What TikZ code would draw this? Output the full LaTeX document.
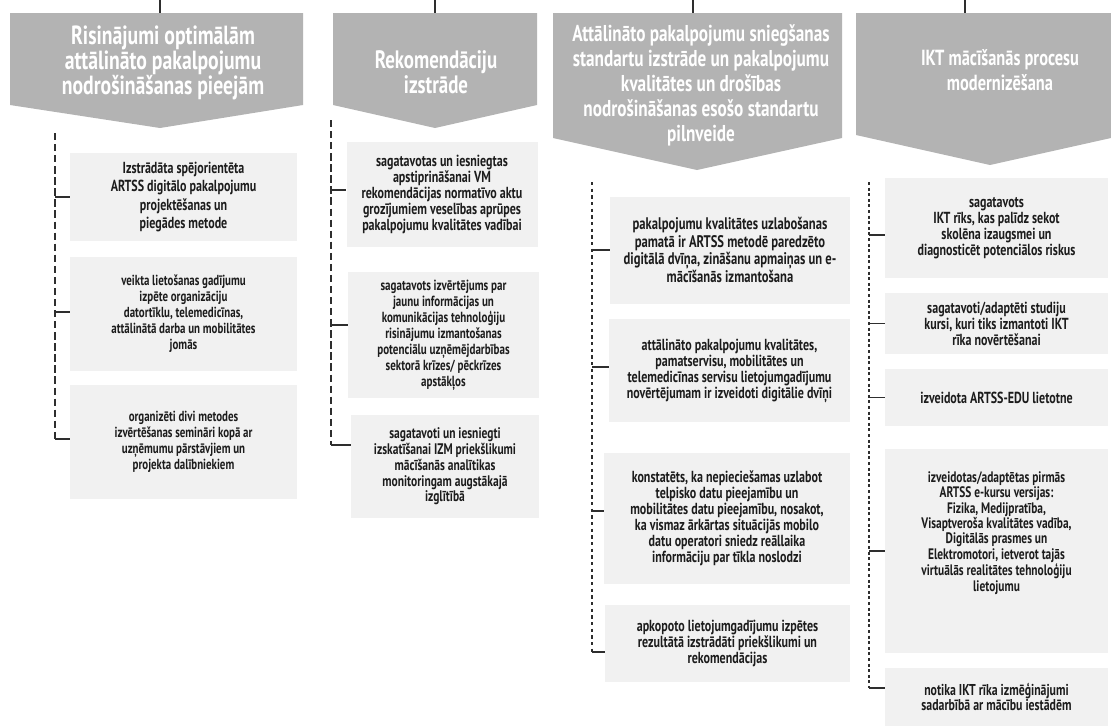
\documentclass[tikz,border=0pt]{standalone}
\usepackage{fontspec}
\setmainfont{PT Sans}[FakeStretch=0.75]
\definecolor{hdrgray}{HTML}{B3B3B3}
\definecolor{boxgray}{HTML}{F1F1F1}
\definecolor{txt}{HTML}{1C1C1C}
\definecolor{ln}{HTML}{2E2E2E}
\newcommand\fsz[2]{\bfseries\fontsize{#1}{#2}\selectfont}
\tikzset{
  hdr/.style={fill=hdrgray, draw=none},
  htext/.style={text=white, font=\fsz{17.5}{18.75}, align=center, inner sep=0pt},
  box/.style={fill=boxgray, draw=none, inner sep=0pt, align=center, text=txt,
              font=\fsz{12}{12}},
  conn/.style={draw=ln, line width=1.1pt},
  dashA/.style={conn, dash pattern=on 5.5pt off 2.8pt},
  dashB/.style={conn, dash pattern=on 2.6pt off 2.4pt},
  dotC/.style={draw=ln, line width=1.5pt, dash pattern=on 2.2pt off 2pt},
}
\begin{document}
\begin{tikzpicture}[x=0.75pt,y=-0.75pt]
\useasboundingbox (0,0) rectangle (1111,726);

% ---------- headers ----------
\fill[hdr] (10,13) -- (303,13) -- (303,105) -- (160,128) -- (10,105) -- cycle;
\fill[hdr] (333,13) -- (537,13) -- (537,105) -- (435,128) -- (333,105) -- cycle;
\fill[hdr] (553,13) -- (842,13) -- (842,138) -- (697,170) -- (553,138) -- cycle;
\fill[hdr] (856,13) -- (1111,13) -- (1111,138) -- (990,165) -- (856,135) -- cycle;

\node[htext, font=\fsz{19.7}{18.75}] (h1) at (163,63) {Risinājumi optimālām\\attālināto pakalpojumu\\nodrošināšanas pieejām};
\node[htext, font=\fsz{18.9}{18.75}] (h2) at (436,72) {Rekomendāciju\\izstrāde};
\node[htext, font=\fsz{17.2}{18.75}] (h3) at (701,85) {Attālināto pakalpojumu sniegšanas\\standartu izstrāde un pakalpojumu\\kvalitātes un drošības\\nodrošināšanas esošo standartu\\pilnveide};
\node[htext, font=\fsz{16.4}{18.75}] (h4) at (1000,70) {IKT mācīšanās procesu\\modernizēšana};

% top lines
\coordinate (t1) at (160,0);  \coordinate (t1b) at (160,13);
\coordinate (t2) at (435,0);  \coordinate (t2b) at (435,13);
\coordinate (t3) at (693,0);  \coordinate (t3b) at (693,13);
\coordinate (t4) at (965,0);  \coordinate (t4b) at (965,13);
\draw[conn] (t1) -- (t1b);
\draw[conn] (t2) -- (t2b);
\draw[conn] (t3) -- (t3b);
\draw[conn] (t4) -- (t4b);

% ---------- column 1 ----------
\node[box, minimum width=227*0.75pt, minimum height=88*0.75pt, font=\fsz{12}{13.7}] (a1) at (183.5,197)
  {Izstrādāta spējorientēta\\ARTSS digitālo pakalpojumu\\projektēšanas un\\piegādes metode};
\node[box, minimum width=227*0.75pt, minimum height=114*0.75pt, font=\fsz{10.9}{12}] (a2) at (183.5,314)
  {veikta lietošanas gadījumu\\izpēte organizāciju\\datortīklu, telemedicīnas,\\attālinātā darba un mobilitātes\\jomās};
\node[box, minimum width=227*0.75pt, minimum height=114*0.75pt, font=\fsz{10.9}{12}] (a3) at (183.5,442)
  {organizēti divi metodes\\izvērtēšanas semināri kopā ar\\uzņēmumu pārstāvjiem un\\projekta dalībniekiem};
\coordinate (v1) at (55,133);
\draw[dashA] (v1) -- ([yshift=2.25pt]a3.west -| v1);
\draw[conn] (a1.west -| v1) -- (a1.west);
\draw[conn] ([yshift=1.5pt]a2.west -| v1) -- ([yshift=1.5pt]a2.west);
\draw[conn] ([yshift=2.25pt]a3.west -| v1) -- ([yshift=2.25pt]a3.west);

% ---------- column 2 ----------
\node[box, minimum width=191*0.75pt, minimum height=105*0.75pt] (b1) at (442,194.5)
  {sagatavotas un iesniegtas\\apstiprināšanai VM\\rekomendācijas normatīvo aktu\\grozījumiem veselības aprūpes\\pakalpojumu kvalitātes vadībai};
\node[box, minimum width=191*0.75pt, minimum height=126*0.75pt, font=\fsz{11}{12}] (b2) at (443.5,335)
  {sagatavots izvērtējums par\\jaunu informācijas un\\komunikācijas tehnoloģiju\\risinājumu izmantošanas\\potenciālu uzņēmējdarbības\\sektorā krīzes/ pēckrīzes\\apstākļos};
\node[box, minimum width=188*0.75pt, minimum height=103*0.75pt, font=\fsz{11.5}{11.8}] (b3) at (445,466.5)
  {sagatavoti un iesniegti\\izskatīšanai IZM priekšlikumi\\mācīšanās analītikas\\monitoringam augstākajā\\izglītībā};
\coordinate (v2) at (331,120);
\draw[dashA] (v2) -- ([yshift=16.1pt]b3.west -| v2);
\draw[conn] ([yshift=3.4pt]b1.west -| v2) -- ([yshift=3.4pt]b1.west);
\draw[conn] ([yshift=7.5pt]b2.west -| v2) -- ([yshift=7.5pt]b2.west);
\draw[conn] ([yshift=16.1pt]b3.west -| v2) -- ([yshift=16.1pt]b3.west);

% ---------- column 3 ----------
\node[box, minimum width=240*0.75pt, minimum height=107*0.75pt, font=\fsz{12.6}{13.3}] (c1) at (730,250)
  {pakalpojumu kvalitātes uzlabošanas\\pamatā ir ARTSS metodē paredzēto\\digitālā dvīņa, zināšanu apmaiņas un e-\\mācīšanās izmantošana};
\node[box, minimum width=241*0.75pt, minimum height=103*0.75pt] (c2) at (729.5,370.5)
  {attālināto pakalpojumu kvalitātes,\\pamatservisu, mobilitātes un\\telemedicīnas servisu lietojumgadījumu\\novērtējumam ir izveidoti digitālie dvīņi};
\node[box, minimum width=246*0.75pt, minimum height=131*0.75pt] (c3) at (727,518.5)
  {konstatēts, ka nepieciešamas uzlabot\\telpisko datu pieejamību un\\mobilitātes datu pieejamību, nosakot,\\ka vismaz ārkārtas situācijās mobilo\\datu operatori sniedz reāllaika\\informāciju par tīkla noslodzi};
\node[box, minimum width=245*0.75pt, minimum height=77*0.75pt] (c4) at (727.5,643.5)
  {apkopoto lietojumgadījumu izpētes\\rezultātā izstrādāti priekšlikumi un\\rekomendācijas};
\coordinate (v3) at (592,182);
\draw[dashB] (v3) -- ([yshift=-6.4pt]c4.west -| v3);
\draw[conn] (c1.west -| v3) -- (c1.west);
\draw[conn] ([yshift=2.6pt]c2.west -| v3) -- ([yshift=2.6pt]c2.west);
\draw[conn] ([yshift=5.6pt]c3.west -| v3) -- ([yshift=5.6pt]c3.west);
\draw[conn] ([yshift=-6.4pt]c4.west -| v3) -- ([yshift=-6.4pt]c4.west);

% ---------- column 4 ----------
\node[box, minimum width=223*0.75pt, minimum height=100*0.75pt] (d1) at (996.5,228)
  {sagatavots\\IKT rīks, kas palīdz sekot\\skolēna izaugsmei un\\diagnosticēt potenciālos riskus};
\node[box, minimum width=223*0.75pt, minimum height=61*0.75pt] (d2) at (996.5,323.5)
  {sagatavoti/adaptēti studiju\\kursi, kuri tiks izmantoti IKT\\rīka novērtēšanai};
\node[box, minimum width=223*0.75pt, minimum height=57*0.75pt] (d3) at (996.5,397.5)
  {izveidota ARTSS-EDU lietotne};
\node[box, minimum width=223*0.75pt, minimum height=204*0.75pt] (d4) at (996.5,551) {};
\node[box, fill=none, font=\fsz{11.4}{10.3}] (d4t) at (996.5,533)
  {izveidotas/adaptētas pirmās\\ARTSS e-kursu versijas:\\Fizika, Medijpratība,\\Visaptveroša kvalitātes vadība,\\Digitālās prasmes un\\Elektromotori, ietverot tajās\\virtuālās realitātes tehnoloģiju\\lietojumu};
\node[box, minimum width=223*0.75pt, minimum height=58*0.75pt, font=\fsz{11.8}{10.7}] (d5) at (996.5,697)
  {notika IKT rīka izmēģinājumi\\sadarbībā ar mācību iestādēm};
\coordinate (v4) at (869,182);
\draw[dotC] (v4) -- ([yshift=6.75pt]d5.west -| v4);
\draw[conn] ([yshift=-5.25pt]d1.west -| v4) -- ([yshift=-5.25pt]d1.west);
\draw[conn] (d2.west -| v4) -- (d2.west);
\draw[conn] (d3.west -| v4) -- (d3.west);
\draw[conn] (d4.west -| v4) -- (d4.west);
\draw[conn] ([yshift=6.75pt]d5.west -| v4) -- ([yshift=6.75pt]d5.west);
\end{tikzpicture}
\end{document}
